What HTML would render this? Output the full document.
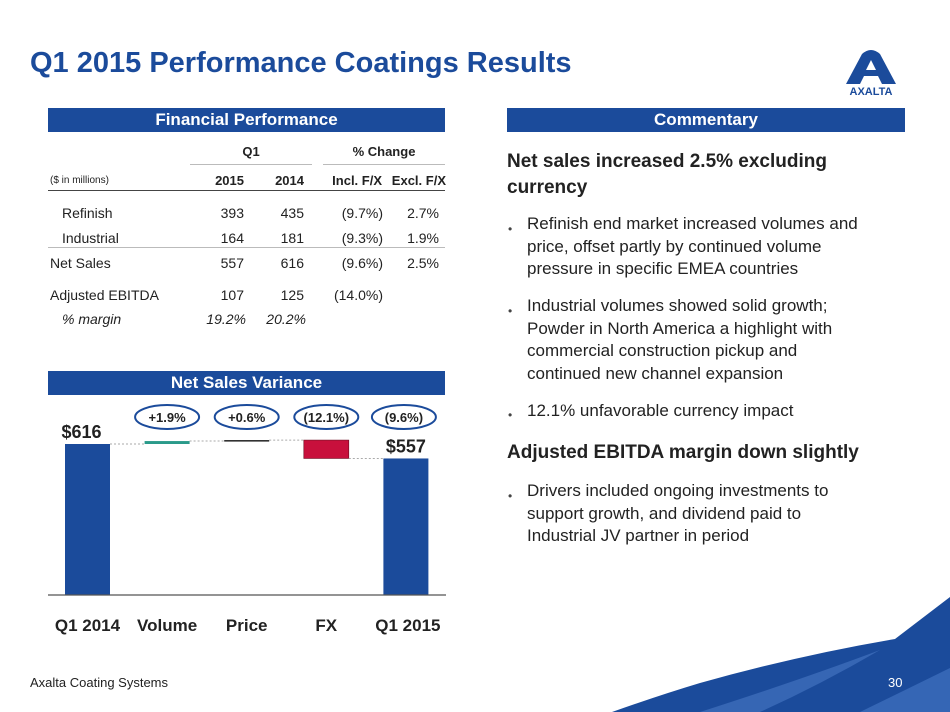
<!DOCTYPE html>
<html><head><meta charset="utf-8"><style>
body{margin:0;width:950px;height:712px;background:#fff;font-family:"Liberation Sans",Arial,sans-serif;position:relative;overflow:hidden}
.a{position:absolute;white-space:nowrap}
.hdr{position:absolute;background:#1b4b9b;color:#fff;font-weight:bold;font-size:17px;text-align:center;line-height:24px;height:24px}
.t{position:absolute;font-size:14px;color:#222}
.r{text-align:right}
.bul{position:absolute;left:527px;font-size:17px;line-height:22.5px;color:#222;width:345px}
.dot{position:absolute;left:508px;font-size:12px;color:#444}
</style></head><body>
<div class="a" style="left:30px;top:47px;font-size:29px;font-weight:bold;color:#1b4b9b">Q1 2015 Performance Coatings Results</div>
<svg class="a" style="left:838px;top:48px" width="66" height="48" viewBox="0 0 66 48">
<path d="M8 36 L24 6 Q33 -2 42 6 L58 36 L44 36 L40 28 L26 28 L22 36 Z M28 22 L38 22 L33 12 Z" fill="#1b4b9b"/>
<text x="33" y="47" font-size="11" font-weight="bold" fill="#1b4b9b" text-anchor="middle" font-family="Liberation Sans">AXALTA</text></svg>
<div class="hdr" style="left:48px;top:108px;width:397px">Financial Performance</div>
<div class="hdr" style="left:507px;top:108px;width:398px">Commentary</div>

<div>
<div class="t a" style="left:190px;width:122px;top:144px;text-align:center;font-size:13px;font-weight:bold">Q1</div>
<div class="t a" style="left:323px;width:122px;top:144px;text-align:center;font-size:13px;font-weight:bold">% Change</div>
<div class="a" style="left:190px;top:164px;width:122px;height:1px;background:#bbb"></div>
<div class="a" style="left:323px;top:164px;width:122px;height:1px;background:#bbb"></div>
<div class="t a" style="left:50px;top:175px;font-size:10px">($ in millions)</div>
<div class="t a r" style="left:180px;width:64px;top:173px;font-weight:bold;font-size:13px">2015</div>
<div class="t a r" style="left:240px;width:64px;top:173px;font-weight:bold;font-size:13px">2014</div>
<div class="t a r" style="left:300px;width:82px;top:173px;font-weight:bold;font-size:13px">Incl. F/X</div>
<div class="t a r" style="left:370px;width:76px;top:173px;font-weight:bold;font-size:13px">Excl. F/X</div>
<div class="a" style="left:48px;top:190px;width:397px;height:1px;background:#444"></div>
<div class="a" style="left:48px;top:247px;width:397px;height:1px;background:#bbb"></div>
<div class="t a" style="left:62px;top:205px">Refinish</div>
<div class="t a r" style="left:180px;width:64px;top:205px">393</div>
<div class="t a r" style="left:240px;width:64px;top:205px">435</div>
<div class="t a r" style="left:300px;width:83px;top:205px">(9.7%)</div>
<div class="t a r" style="left:370px;width:69px;top:205px">2.7%</div>
<div class="t a" style="left:62px;top:230px">Industrial</div>
<div class="t a r" style="left:180px;width:64px;top:230px">164</div>
<div class="t a r" style="left:240px;width:64px;top:230px">181</div>
<div class="t a r" style="left:300px;width:83px;top:230px">(9.3%)</div>
<div class="t a r" style="left:370px;width:69px;top:230px">1.9%</div>
<div class="t a" style="left:50px;top:255px">Net Sales</div>
<div class="t a r" style="left:180px;width:64px;top:255px">557</div>
<div class="t a r" style="left:240px;width:64px;top:255px">616</div>
<div class="t a r" style="left:300px;width:83px;top:255px">(9.6%)</div>
<div class="t a r" style="left:370px;width:69px;top:255px">2.5%</div>
<div class="t a" style="left:50px;top:287px">Adjusted EBITDA</div>
<div class="t a r" style="left:180px;width:64px;top:287px">107</div>
<div class="t a r" style="left:240px;width:64px;top:287px">125</div>
<div class="t a r" style="left:300px;width:83px;top:287px">(14.0%)</div>
<div class="t a" style="left:62px;top:311px;font-style:italic">% margin</div>
<div class="t a r" style="left:180px;width:66px;top:311px;font-style:italic">19.2%</div>
<div class="t a r" style="left:240px;width:66px;top:311px;font-style:italic">20.2%</div>
</div>

<div class="hdr" style="left:48px;top:371px;width:397px">Net Sales Variance</div>
<svg id="chart" class="a" style="left:0;top:395px" width="470" height="250"></svg>

<div class="a" style="left:507px;top:149px;font-size:19px;font-weight:bold;line-height:26px;color:#222;white-space:normal;width:400px">Net sales increased 2.5% excluding currency</div>
<div class="dot" style="top:222px">•</div>
<div class="bul" style="top:213px">Refinish end market increased volumes and price, offset partly by continued volume pressure in specific EMEA countries</div>
<div class="dot" style="top:304px">•</div>
<div class="bul" style="top:295px">Industrial volumes showed solid growth; Powder in North America a highlight with commercial construction pickup and continued new channel expansion</div>
<div class="dot" style="top:408px">•</div>
<div class="bul" style="top:400px">12.1% unfavorable currency impact</div>
<div class="a" style="left:507px;top:442px;font-size:19px;font-weight:bold;color:#222">Adjusted EBITDA margin down slightly</div>
<div class="dot" style="top:489px">•</div>
<div class="bul" style="top:480px">Drivers included ongoing investments to support growth, and dividend paid to Industrial JV partner in period</div>

<svg class="a" style="left:0;top:0" width="950" height="712">
<path d="M612 712 Q660 695 700 683 Q800 655 895 639 L950 597 L950 712 Z" fill="#1b4b9b"/>
<path d="M700 712 Q800 680 880 650 Q820 685 760 712 Z" fill="#4a78c4" opacity="0.6"/>
<path d="M860 712 L950 668 L950 712 Z" fill="#3566b5"/>
</svg>
<div class="a" style="left:30px;top:675px;font-size:13px;color:#222">Axalta Coating Systems</div>
<div class="a" style="left:888px;top:675px;font-size:13px;color:#fff">30</div>

<script>
const categories=["Q1 2014","Volume","Price","FX","Q1 2015"];
const deltas=[616,12,4,-75,557];
const kinds=["total","delta","delta","delta","total"];
const pctLabels=["","+1.9%","+0.6%","(12.1%)","(9.6%)"];
const valueLabels=["$616","","","","$557"];
const svg=document.getElementById('chart');
const NS="http://www.w3.org/2000/svg";
const base=200, k=151/616;
const y=v=>base-v*k;
const xc=i=>87.5+i*79.6;
const bw=45;
function mk(t,a){const e=document.createElementNS(NS,t);for(const p in a)e.setAttribute(p,a[p]);svg.appendChild(e);return e;}
let run=0;
categories.forEach((c,i)=>{
 let v0,v1,col;
 if(kinds[i]==="total"){v0=0;v1=deltas[i];run=deltas[i];col="#1b4b9b";}
 else{v0=run;v1=run+deltas[i];run=v1;col=deltas[i]<0?"#c8103c":(i===1?"#2a9a8a":"#222");}
 const top=y(Math.max(v0,v1)),bot=y(Math.min(v0,v1));
 const r=mk('rect',{x:xc(i)-bw/2,y:top,width:bw,height:Math.max(bot-top,1.5),fill:col,stroke:deltas[i]<0?"#6a0a20":"none","stroke-width":0.6});
 
 
 if(i<categories.length-1){
  const l=mk('line',{x1:xc(i)+bw/2,x2:xc(i+1)-bw/2,y1:y(run),y2:y(run),stroke:"#aaa","stroke-dasharray":"2,2"});
  
  
 }
 if(valueLabels[i]){
  const t=mk('text',{x:xc(i)+(i===0?-6:0),y:top-6,"font-size":18,"font-weight":"bold","text-anchor":"middle",fill:"#222","font-family":"Liberation Sans"});
  t.textContent=valueLabels[i];
  
  
 }
 if(pctLabels[i]){
  const e=mk('ellipse',{cx:xc(i)+(i===4?-2:0),cy:22,rx:32,ry:12,fill:"none",stroke:"#1b4b9b","stroke-width":2});
  
  
  const t=mk('text',{x:xc(i)+(i===4?-2:0),y:27,"font-size":13,"font-weight":"bold","text-anchor":"middle",fill:"#222","font-family":"Liberation Sans"});
  t.textContent=pctLabels[i];
  
  
 }
 const xl=mk('text',{x:xc(i)+(i===4?2:0),y:236,"font-size":17,"font-weight":"bold","text-anchor":"middle",fill:"#222","font-family":"Liberation Sans"});
 xl.textContent=c;
 
 
});
const ax=mk('line',{x1:48,x2:446,y1:base,y2:base,stroke:"#555","stroke-width":1.2});


</script>
</body></html>
